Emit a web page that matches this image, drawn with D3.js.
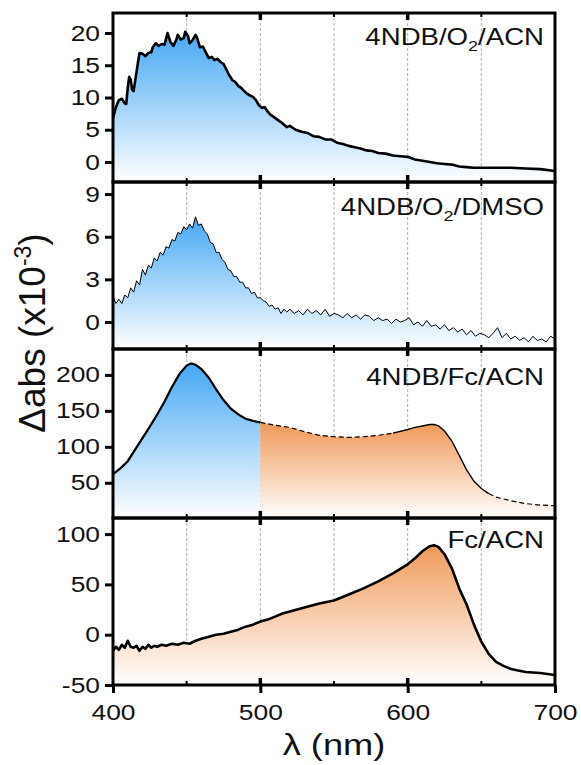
<!DOCTYPE html>
<html>
<head>
<meta charset="utf-8">
<script src="https://d3js.org/d3.v7.min.js"></script>
<style>
  body { margin: 0; background: #fff; }
  text { font-family: "Liberation Sans", Arial, sans-serif; fill: #111; }
</style>
</head>
<body>
<div id="chart"></div>
<script>

// ---------- data ----------
var xTicks = [400, 500, 600, 700];
var xMinor = [450, 550, 650];
var gridLines = [450, 500, 550, 600, 650];

// panel 1 : 4NDB/O2/ACN
var wl1 = [400,402,404,406,408,409,410,411,412,413,414,415,417,418,420,422,424,426,427,429,431,433,435,437,439,441,443,444,446,448,449,451,452,454,456,457,459,461,463,465,467,469,471,473,475,477,479,481,483,485,487,489,491,493,495,497,499,501,503,505,507,509,512,515,518,520,524,528,532,536,540,544,548,552,556,560,564,568,572,576,580,585,590,595,600,605,610,615,620,625,630,635,640,645,650,660,670,680,690,700];
var abs1 = [6.8,8.5,9.6,9.8,9.1,9.0,11.5,13.2,12.8,11.2,11.0,12.5,15.5,16.9,16.8,16.4,16.9,17.0,17.8,18.4,18.0,18.3,18.2,20.0,18.6,18.0,19.0,19.7,19.0,19.2,20.2,19.5,18.4,18.9,19.7,19.3,17.8,17.9,17.0,16.1,16.3,15.8,16.0,15.5,15.2,14.3,13.4,12.7,12.4,11.8,11.5,11.0,10.6,10.3,10.1,9.6,8.8,8.4,8.5,7.8,7.3,7.0,6.5,6.0,5.4,5.6,5.0,4.7,4.5,4.0,3.9,3.5,3.5,3.0,2.8,2.5,2.3,2.1,1.8,1.7,1.4,1.3,1.0,0.9,0.8,0.4,0.2,0.0,-0.2,-0.3,-0.4,-0.7,-0.8,-0.9,-0.9,-0.9,-0.9,-1.0,-1.1,-1.4];

// panel 2 : 4NDB/O2/DMSO
var wl2 = [400,402,404,406,408,410,412,414,416,418,420,422,424,426,428,430,432,434,436,438,440,442,444,446,448,450,452,454,456,458,460,462,464,466,468,470,472,474,476,478,480,482,484,486,488,490,492,494,496,498,500,502,504,506,508,510,512,514,516,518,520,523,526,529,532,535,538,541,544,547,550,553,556,559,562,565,568,571,574,577,580,583,586,589,592,595,598,601,604,607,610,613,616,619,622,625,628,631,634,637,640,643,646,649,652,655,658,661,664,667,670,673,676,679,682,685,688,691,694,697,700];
var abs2 = [1.8,1.3,1.6,1.3,1.9,1.7,2.4,2.1,2.9,2.6,3.7,3.3,4.0,3.8,4.5,4.3,4.9,4.7,5.3,5.2,5.8,5.7,6.3,6.2,6.7,6.5,6.9,6.6,7.4,6.8,6.9,6.4,6.2,5.6,5.5,4.9,4.9,4.4,4.2,3.7,3.6,3.2,3.2,2.8,2.8,2.4,2.4,2.0,2.1,1.7,1.7,1.5,1.4,1.1,1.2,0.9,1.0,0.6,0.9,0.7,0.9,0.6,0.8,0.5,0.9,0.6,0.8,0.5,0.9,0.4,0.6,0.5,0.3,0.6,0.3,0.5,0.2,0.5,0.4,0.1,0.3,0.1,0.2,-0.1,0.2,0.0,0.1,0.3,-0.2,0.0,-0.3,0.1,-0.3,-0.2,-0.5,-0.2,-0.6,-0.4,-0.7,-0.5,-0.9,-0.6,-1.0,-0.8,-0.9,-1.1,-0.8,-0.4,-1.1,-0.8,-1.2,-1.0,-1.3,-1.1,-1.4,-1.0,-1.3,-1.2,-1.4,-1.0,-1.2];

// panel 3 : 4NDB/Fc/ACN
var wl3 = [400,405,410,415,420,425,430,435,440,445,450,453,456,460,465,470,475,480,485,490,495,500,510,520,530,540,550,560,570,580,590,600,605,610,615,618,621,625,630,635,640,645,650,655,660,670,680,690,700];
var abs3 = [62,70,80,96,112,128,145,163,183,201,213,216,214,208,196,180,165,153,145,139,136,134,130,127,121,116,114,113,114,116,119,124,127,129,131,131,129,122,108,88,68,52,42,35,30,25,21,19,18];

// panel 4 : Fc/ACN
var wl4 = [400,402,404,406,408,410,412,414,416,418,420,422,424,426,428,430,433,436,440,444,448,452,456,460,465,470,475,480,485,490,495,500,505,510,515,520,530,540,550,560,570,580,590,600,605,610,615,618,621,625,630,635,640,645,650,655,660,665,670,680,690,700];
var abs4 = [-16,-12,-15,-10,-13,-6,-12,-13,-11,-16,-12,-14,-10,-13,-11,-12,-10,-11,-9,-10,-8,-9,-6,-4,-2,0,1,3,5,8,10,13,15,18,21,23,27,31,34,40,46,53,61,70,76,83,88,89,87,80,66,46,30,10,-7,-19,-27,-31,-34,-37,-38,-40];

var panelLabels = ['4NDB/O|2|/ACN', '4NDB/O|2|/DMSO', '4NDB/Fc/ACN', 'Fc/ACN'];
var yDomains = [[-3.1, 23.1], [-1.9, 9.85], [1, 236], [-50, 116]];
var yTicks = [[0, 5, 10, 15, 20], [0, 3, 6, 9], [50, 100, 150, 200], [-50, 0, 50, 100]];

// ---------- layout ----------
var attrs = {
  svgWidth: 581,
  svgHeight: 765,
  left: 113,
  right: 555,
  panelTops: [13, 182, 349, 518],
  panelBottom: 685,
  blue: '#45a8f4',
  orange: '#f09a5a',
  fontSize: 22,
  stretch: 1.2
};

var svg = d3.select('#chart').append('svg')
  .attr('width', attrs.svgWidth)
  .attr('height', attrs.svgHeight);

var defs = svg.append('defs');

var x = d3.scaleLinear().domain([400, 700]).range([attrs.left, attrs.right]);

var panels = [
  { wl: wl1, v: abs1, line: 2.6 },
  { wl: wl2, v: abs2, line: 1 },
  { wl: wl3, v: abs3, line: 2 },
  { wl: wl4, v: abs4, line: 2.6 }
];

// plain hyphen for negatives, like the original
var fmt = function (d) { return String(d); };

function gradient(id, color, y0, y1) {
  var g = defs.append('linearGradient')
    .attr('id', id)
    .attr('gradientUnits', 'userSpaceOnUse')
    .attr('x1', 0).attr('x2', 0)
    .attr('y1', y0).attr('y2', y1);
  g.append('stop').attr('offset', 0).attr('stop-color', color);
  g.append('stop').attr('offset', 1).attr('stop-color', '#ffffff');
}

panels.forEach(function (p, i) {
  var top = attrs.panelTops[i];
  var bottom = i < 3 ? attrs.panelTops[i + 1] : attrs.panelBottom;
  var y = d3.scaleLinear().domain(yDomains[i]).range([bottom, top]);
  var pts = p.wl.map(function (w, k) { return [w, p.v[k]]; });

  var chart = svg.append('g').attr('class', 'panel-' + i);

  var clipId = 'clip' + i;
  defs.append('clipPath').attr('id', clipId)
    .append('rect').attr('x', attrs.left).attr('y', top)
    .attr('width', attrs.right - attrs.left).attr('height', bottom - top);

  var area = d3.area()
    .x(function (d) { return x(d[0]); })
    .y0(bottom)
    .y1(function (d) { return y(d[1]); });
  var line = d3.line()
    .x(function (d) { return x(d[0]); })
    .y(function (d) { return y(d[1]); });

  var peak = y(d3.max(p.v));
  var body = chart.append('g').attr('clip-path', 'url(#' + clipId + ')');

  // dashed grid (behind the fills)
  body.selectAll('.grid').data(gridLines).enter().append('line')
    .attr('x1', function (d) { return x(d); }).attr('x2', function (d) { return x(d); })
    .attr('y1', top).attr('y2', bottom)
    .attr('stroke', '#9a9a9a').attr('stroke-width', 0.8)
    .attr('stroke-dasharray', '3,2');

  if (i === 0 || i === 1) {
    gradient('gb' + i, attrs.blue, peak, bottom);
    body.append('path').datum(pts).attr('d', area).attr('fill', 'url(#gb' + i + ')');
  } else if (i === 2) {
    var bluePts = pts.filter(function (d) { return d[0] <= 500; });
    var orangePts = pts.filter(function (d) { return d[0] >= 500; });
    gradient('gb2', attrs.blue, peak, bottom);
    gradient('go2', attrs.orange, y(131), bottom);
    body.append('path').datum(bluePts).attr('d', area).attr('fill', 'url(#gb2)');
    body.append('path').datum(orangePts).attr('d', area).attr('fill', 'url(#go2)');
  } else {
    gradient('go3', attrs.orange, peak, bottom);
    body.append('path').datum(pts).attr('d', area).attr('fill', 'url(#go3)');
  }

  // curve
  if (i === 2) {
    var seg = function (a, b) { return pts.filter(function (d) { return d[0] >= a && d[0] <= b; }); };
    body.append('path').datum(seg(400, 500)).attr('d', line)
      .attr('fill', 'none').attr('stroke', '#000').attr('stroke-width', 2.2);
    body.append('path').datum(seg(500, 590)).attr('d', line)
      .attr('fill', 'none').attr('stroke', '#000').attr('stroke-width', 1.2).attr('stroke-dasharray', '5,3');
    body.append('path').datum(seg(590, 655)).attr('d', line)
      .attr('fill', 'none').attr('stroke', '#000').attr('stroke-width', 1.4);
    body.append('path').datum(seg(655, 700)).attr('d', line)
      .attr('fill', 'none').attr('stroke', '#000').attr('stroke-width', 1.2).attr('stroke-dasharray', '5,3');
  } else {
    body.append('path').datum(pts).attr('d', line)
      .attr('fill', 'none').attr('stroke', '#000').attr('stroke-width', p.line)
      .attr('stroke-linejoin', 'round');
  }

  // frame
  chart.append('rect')
    .attr('x', attrs.left).attr('y', top)
    .attr('width', attrs.right - attrs.left).attr('height', bottom - top)
    .attr('fill', 'none').attr('stroke', '#000').attr('stroke-width', 3);

  // left axis
  var yAxis = d3.axisLeft(y).tickValues(yTicks[i]).tickFormat(fmt).tickSize(8).tickPadding(5).tickSizeOuter(0);
  var ya = chart.append('g').attr('transform', 'translate(' + attrs.left + ',0)').call(yAxis);
  ya.select('.domain').remove();
  ya.selectAll('.tick line').attr('stroke', '#000').attr('stroke-width', 3);
  ya.selectAll('.tick text')
    .attr('font-size', attrs.fontSize)
    .attr('font-family', '"Liberation Sans", Arial, sans-serif')
    .attr('transform', 'scale(' + attrs.stretch + ',1)')
    .attr('x', -13 / attrs.stretch);

  // x ticks on top (inward) and bottom (outward)
  [[top, 1], [bottom, -1]].forEach(function (e) {
    var yy = e[0], dir = e[1];
    chart.selectAll(null).data(xTicks.slice(1, 3)).enter().append('line')
      .attr('x1', function (d) { return x(d); }).attr('x2', function (d) { return x(d); })
      .attr('y1', yy).attr('y2', yy + dir * 7)
      .attr('stroke', '#000').attr('stroke-width', 3.5);
    chart.selectAll(null).data(xMinor).enter().append('line')
      .attr('x1', function (d) { return x(d); }).attr('x2', function (d) { return x(d); })
      .attr('y1', yy).attr('y2', yy + dir * 4)
      .attr('stroke', '#000').attr('stroke-width', 2);
  });

  // panel label
  var parts = panelLabels[i].split('|');
  var lg = chart.append('g')
    .attr('transform', 'translate(' + [544, [45, 215, 385, 548][i]] + ')');
  var t = lg.append('text')
    .attr('text-anchor', 'end')
    .attr('font-size', 23)
    .attr('transform', 'scale(' + attrs.stretch + ',1)');
  t.append('tspan').text(parts[0]);
  if (parts.length > 1) {
    t.append('tspan').attr('font-size', 15).attr('dy', 6).text(parts[1]);
    t.append('tspan').attr('dy', -6).text(parts[2]);
  }

  if (i === 3) {
    var xAxis = d3.axisBottom(x).tickValues(xTicks).tickFormat(fmt).tickSize(8).tickPadding(11).tickSizeOuter(0);
    var xa = chart.append('g').attr('transform', 'translate(0,' + bottom + ')').call(xAxis);
    xa.select('.domain').remove();
    xa.selectAll('.tick line').attr('stroke', '#000').attr('stroke-width', 3);
    xa.selectAll('.tick text')
      .attr('font-size', attrs.fontSize)
      .attr('font-family', '"Liberation Sans", Arial, sans-serif')
      .attr('transform', 'scale(' + attrs.stretch + ',1)');
  }
});

// axis titles
svg.append('text')
  .attr('transform', 'translate(45,333) rotate(-90)')
  .attr('text-anchor', 'middle')
  .attr('font-size', 37)
  .call(function (t) {
    t.append('tspan').text('\u0394abs (x10');
    t.append('tspan').attr('font-size', 23).attr('dy', -14).text('-3');
    t.append('tspan').attr('dy', 14).text(')');
  });

svg.append('g')
  .attr('transform', 'translate(334,755)')
  .append('text')
  .attr('text-anchor', 'middle')
  .attr('font-size', 29)
  .attr('transform', 'scale(1.25,1)')
  .text('\u03bb (nm)');

</script>
</body>
</html>
